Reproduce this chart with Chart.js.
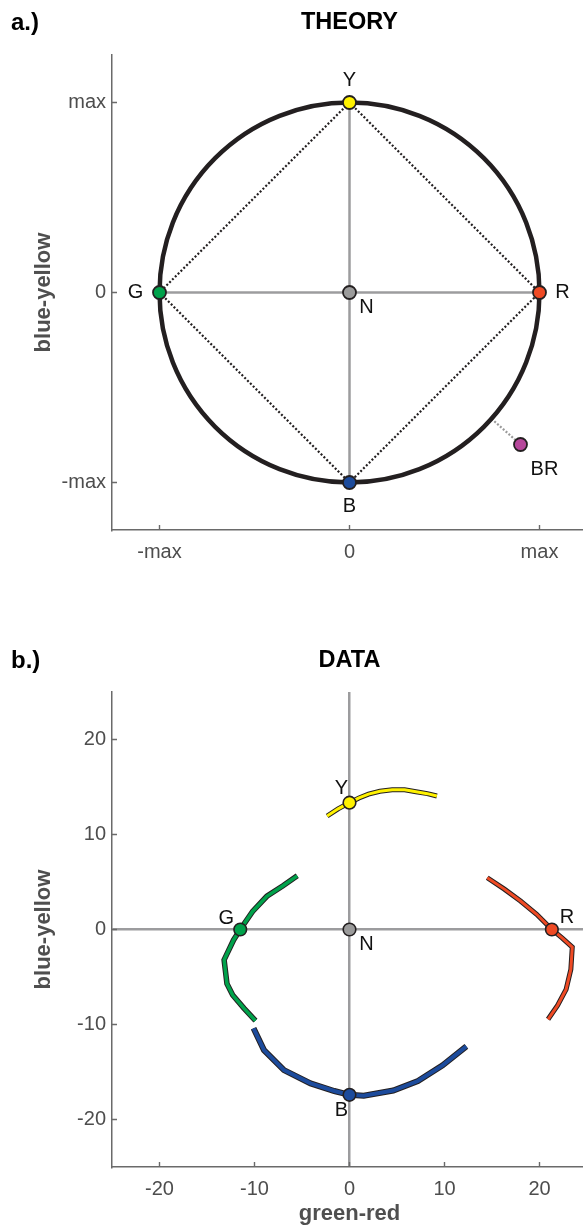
<!DOCTYPE html>
<html>
<head>
<meta charset="utf-8">
<title>Colour-opponent space</title>
<script src="https://cdn.jsdelivr.net/npm/chart.js@4.4.1/dist/chart.umd.min.js"></script>
<style>
  html, body { margin: 0; padding: 0; overflow: hidden; background: #fff; width: 583px; height: 1226px; }
  canvas { display: block; position: absolute; left: 0; }
  #theory { top: 0; }
  #data { top: 600px; }
</style>
</head>
<body>
<canvas id="theory" width="587" height="600"></canvas>
<canvas id="data" width="587" height="626"></canvas>
<script>
// ---- values ----
const axisLimit = 25;
const maxValue = 20;

// theoretical opponent positions
const theoryNames = ['Y', 'R', 'B', 'G', 'N', 'BR'];
const theoryX = [0, maxValue, 0, -maxValue, 0, 18];
const theoryY = [maxValue, 0, -maxValue, 0, 0, -16];
const theoryTicks = [-maxValue, 0, maxValue];
const theoryTickLabels = ['-max', '0', 'max'];

// measured hue loci
const yellowX = [-2.35, -1.2, 0, 1.0, 2.0, 3.2, 4.5, 5.8, 7.0, 8.2, 9.2];
const yellowY = [11.95, 12.7, 13.35, 13.85, 14.25, 14.55, 14.7, 14.7, 14.5, 14.3, 14.05];
const greenX = [-5.5, -7.0, -8.7, -10.2, -11.5, -12.2, -13.2, -12.9, -12.3, -11.1, -9.9];
const greenY = [5.65, 4.6, 3.5, 1.9, 0, -1.1, -3.2, -5.7, -6.9, -8.3, -9.6];
const redX = [14.5, 16.3, 18.0, 19.7, 21.3, 22.4, 23.45, 23.3, 22.8, 21.9, 20.9];
const redY = [5.45, 4.25, 3.0, 1.6, 0, -0.9, -1.85, -4.2, -6.3, -8.0, -9.45];
const blueX = [-10.1, -9.0, -6.9, -4.1, -1.6, 0, 1.5, 4.6, 7.2, 9.8, 12.3];
const blueY = [-10.4, -12.7, -14.8, -16.2, -17.0, -17.4, -17.5, -16.95, -15.95, -14.3, -12.3];

// unique hues found in the data
const dataNames = ['Y', 'G', 'R', 'B', 'N'];
const dataX = [0, -11.5, 21.3, 0, 0];
const dataY = [13.35, 0, 0, -17.4, 0];
const dataTicks = [-20, -10, 0, 10, 20];
const dataTickLabels = ['-20', '-10', '0', '10', '20'];

// ---- styles ----
const FONT = '"Liberation Sans", Arial, Helvetica, sans-serif';
const ink = '#231f20';
const axisColor = '#6a6a6a';
const tickText = '#4d4d4d';
const refGray = '#9c9c9e';
const markerColors = { Y: '#fff200', G: '#00a24b', R: '#ef4a24', B: '#1c4b9c', N: '#9b9b9b', BR: '#b6479b' };
const lineColors = { Y: '#fff200', G: '#00a24b', R: '#ef4a24', B: '#1c4b9c' };
const labelOffsets = {
  theory: { Y: [0, -22], G: [-24, 0], R: [23, 0], B: [0, 24], N: [17, 15], BR: [24, 25] },
  data: { Y: [-8, -14], G: [-14, -11], R: [15, -12], B: [-8, 16], N: [17, 15] }
};

Chart.defaults.font.family = FONT;
Chart.defaults.animation = false;

const toPoints = (xs, ys) => xs.map((v, i) => ({ x: v, y: ys[i] }));

// inward tick marks, reference ring, headings and marker names
const panelDecor = {
  id: 'panelDecor',
  beforeDatasetsDraw(chart) {
    const { ctx, chartArea: a, scales: { x, y } } = chart;
    ctx.save();
    ctx.strokeStyle = axisColor;
    ctx.lineWidth = 1.4;
    ctx.beginPath();
    x.ticks.forEach(t => {
      const p = x.getPixelForValue(t.value);
      ctx.moveTo(p, a.bottom); ctx.lineTo(p, a.bottom - 5);
    });
    y.ticks.forEach(t => {
      const p = y.getPixelForValue(t.value);
      ctx.moveTo(a.left, p); ctx.lineTo(a.left + 5, p);
    });
    ctx.stroke();
    ctx.restore();
  },
  afterDatasetDraw(chart, args, opts) {
    const ds = chart.data.datasets[args.index];
    if (!ds.ringAfter || opts.ringRadius == null) return;
    const { ctx, scales: { x, y } } = chart;
    const cx = x.getPixelForValue(0), cy = y.getPixelForValue(0);
    const r = x.getPixelForValue(opts.ringRadius) - cx;
    ctx.save();
    ctx.beginPath();
    ctx.arc(cx, cy, r, 0, Math.PI * 2);
    ctx.strokeStyle = ink;
    ctx.lineWidth = 4.5;
    ctx.stroke();
    ctx.restore();
  },
  afterDraw(chart, args, opts) {
    const { ctx, chartArea: a, scales: { x, y } } = chart;
    ctx.save();
    ctx.fillStyle = '#000';
    ctx.textBaseline = 'middle';
    ctx.font = 'bold 23.5px ' + FONT;
    ctx.textAlign = 'center';
    ctx.fillText(opts.heading, (a.left + a.right) / 2, opts.headingY);
    ctx.font = 'bold 24px ' + FONT;
    ctx.textAlign = 'left';
    ctx.fillText(opts.letter, 11, opts.headingY);
    ctx.font = '20px ' + FONT;
    ctx.textAlign = 'center';
    ctx.fillStyle = '#111';
    opts.names.forEach((n, i) => {
      const off = opts.offsets[n];
      ctx.fillText(n, x.getPixelForValue(opts.xs[i]) + off[0], y.getPixelForValue(opts.ys[i]) + off[1]);
    });
    ctx.restore();
  }
};

function axis(opts) {
  return {
    type: 'linear',
    position: opts.position,
    min: -axisLimit,
    max: axisLimit,
    afterBuildTicks: s => { s.ticks = opts.ticks.map(v => ({ value: v })); },
    afterFit: s => { if (opts.position === 'bottom') s.height = opts.size; else s.width = opts.size; },
    grid: {
      display: !!opts.zeroLine,
      drawTicks: false,
      color: c => (c.tick && c.tick.value === 0) ? refGray : 'rgba(0,0,0,0)',
      lineWidth: 2.5
    },
    border: { display: true, color: axisColor, width: 1.5 },
    ticks: {
      padding: opts.position === 'bottom' ? 10 : 6,
      color: tickText,
      font: { size: 20 },
      autoSkip: false,
      maxRotation: 0,
      callback: (v, i) => opts.labels[i]
    },
    title: opts.title ? {
      display: true,
      text: opts.title,
      color: '#4f4f4f',
      font: { size: 22, weight: 'bold', lineHeight: opts.position === 'bottom' ? 1 : 1.2 },
      padding: opts.position === 'bottom' ? { top: 0, bottom: 1 } : { top: 31, bottom: 0 }
    } : { display: false }
  };
}

// ---- a.) THEORY ----
const tp = n => { const i = theoryNames.indexOf(n); return { x: theoryX[i], y: theoryY[i] }; };
const br = tp('BR');
const brLen = Math.hypot(br.x, br.y);
const ringPoint = { x: br.x * maxValue / brLen, y: br.y * maxValue / brLen };

new Chart(document.getElementById('theory'), {
  type: 'scatter',
  data: {
    datasets: [
      {
        label: 'hues',
        data: toPoints(theoryX, theoryY),
        pointRadius: 6.5,
        pointBackgroundColor: theoryNames.map(n => markerColors[n]),
        pointBorderColor: ink,
        pointBorderWidth: 1.8,
        showLine: false
      },
      {
        label: 'BR link',
        data: [ringPoint, br],
        showLine: true, pointRadius: 0,
        borderColor: '#9a9a9a', borderWidth: 2.2, borderDash: [2, 1.8],
        ringAfter: true
      },
      {
        label: 'diamond',
        data: [tp('Y'), tp('R'), tp('B'), tp('G'), tp('Y')],
        showLine: true, pointRadius: 0,
        borderColor: ink, borderWidth: 2.2, borderDash: [2, 2]
      },
      {
        label: 'green-red',
        data: [tp('G'), tp('R')],
        showLine: true, pointRadius: 0,
        borderColor: refGray, borderWidth: 2.5
      },
      {
        label: 'blue-yellow',
        data: [tp('B'), tp('Y')],
        showLine: true, pointRadius: 0,
        borderColor: refGray, borderWidth: 2.5
      }
    ]
  },
  options: {
    responsive: false,
    animation: false,
    events: [],
    layout: { autoPadding: false, padding: { top: 55, left: 0, right: 0, bottom: 0 } },
    scales: {
      x: axis({ position: 'bottom', ticks: theoryTicks, labels: theoryTickLabels, size: 70 }),
      y: axis({ position: 'left', ticks: theoryTicks, labels: theoryTickLabels, size: 112, title: 'blue-yellow' })
    },
    plugins: {
      legend: { display: false },
      tooltip: { enabled: false },
      panelDecor: {
        heading: 'THEORY', letter: 'a.)', headingY: 23,
        ringRadius: maxValue,
        names: theoryNames, xs: theoryX, ys: theoryY, offsets: labelOffsets.theory
      }
    }
  },
  plugins: [panelDecor]
});

// ---- b.) DATA ----
const curves = [
  { key: 'Y', xs: yellowX, ys: yellowY, w: 3 },
  { key: 'G', xs: greenX, ys: greenY, w: 3.5 },
  { key: 'R', xs: redX, ys: redY, w: 3 },
  { key: 'B', xs: blueX, ys: blueY, w: 4 }
];
const colouredLines = curves.map(c => ({
  label: c.key,
  data: toPoints(c.xs, c.ys),
  showLine: true, pointRadius: 0,
  borderColor: lineColors[c.key], borderWidth: c.w
}));
const outlineLines = curves.map(c => ({
  label: c.key + ' outline',
  data: toPoints(c.xs, c.ys),
  showLine: true, pointRadius: 0,
  borderColor: ink, borderWidth: c.w + 2
}));

new Chart(document.getElementById('data'), {
  type: 'scatter',
  data: {
    datasets: [
      {
        label: 'unique hues',
        data: toPoints(dataX, dataY),
        pointRadius: 6.3,
        pointBackgroundColor: dataNames.map(n => markerColors[n]),
        pointBorderColor: ink,
        pointBorderWidth: 1.6,
        showLine: false
      },
      ...colouredLines,
      ...outlineLines
    ]
  },
  options: {
    responsive: false,
    animation: false,
    events: [],
    layout: { autoPadding: false, padding: { top: 92, left: 0, right: 0, bottom: 0 } },
    scales: {
      x: axis({ position: 'bottom', ticks: dataTicks, labels: dataTickLabels, size: 59, title: 'green-red', zeroLine: true }),
      y: axis({ position: 'left', ticks: dataTicks, labels: dataTickLabels, size: 112, title: 'blue-yellow', zeroLine: true })
    },
    plugins: {
      legend: { display: false },
      tooltip: { enabled: false },
      panelDecor: {
        heading: 'DATA', letter: 'b.)', headingY: 61,
        names: dataNames, xs: dataX, ys: dataY, offsets: labelOffsets.data
      }
    }
  },
  plugins: [panelDecor]
});
</script>
</body>
</html>
